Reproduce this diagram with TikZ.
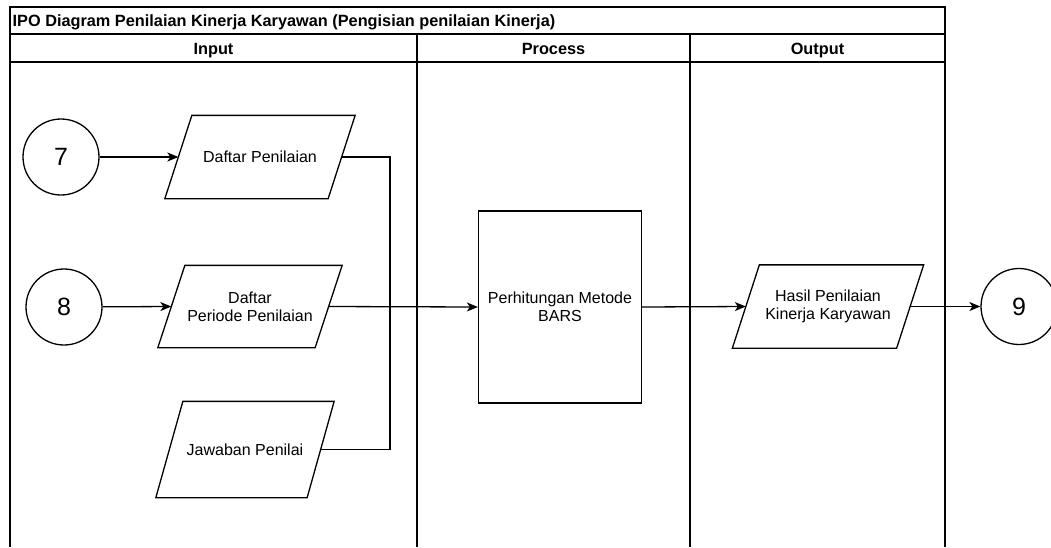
\documentclass[tikz,border=0pt]{standalone}
\usepackage{fontspec}
\setmainfont{Liberation Sans}
\usetikzlibrary{arrows.meta}
\begin{document}
\begin{tikzpicture}[x=1pt,y=-1pt,line width=1.3pt,
  txt/.style={font=\fontsize{16}{18.4}\selectfont, align=center},
  hdr/.style={font=\fontsize{16.3}{18.5}\selectfont\bfseries, inner sep=0pt, anchor=base},
  conn/.style={draw, circle, minimum size=76pt, inner sep=0pt, font=\fontsize{25}{28}\selectfont},
  para/.style={txt, inner sep=0pt},
  procbox/.style={txt, draw, inner sep=0pt, minimum width=163pt, minimum height=192pt},
  arr/.style={-{Stealth[length=11pt,width=9pt,inset=3pt]}}
]
\useasboundingbox (0,0) rectangle (1051,547);
% frame
\draw (10,547) -- (10,7) -- (945,7) -- (945,547);
\draw (10,34) -- (945,34);
\draw (10,62) -- (945,62);
\draw (417,34) -- (417,547);
\draw (690,34) -- (690,547);
\node[hdr, anchor=base west] (title) at (12,26.5) {IPO Diagram Penilaian Kinerja Karyawan (Pengisian penilaian Kinerja)};
\node[hdr] (hin) at (213.5,54) {Input};
\node[hdr] (hpr) at (553.5,54) {Process};
\node[hdr] (hout) at (817.5,54) {Output};
% connectors circles
\node[conn] (c7) at (61,157) {7};
\node[conn] (c8) at (64,307) {8};
\node[conn] (c9) at (1019,306.5) {9};
% parallelograms
\node[para, minimum width=162pt, minimum height=82pt] (dp) at (260,157) {Daftar Penilaian};
\node[para, minimum width=156pt, minimum height=81pt] (dpp) at (250,306.5) {Daftar\\Periode Penilaian};
\node[para, minimum width=150pt, minimum height=95pt] (jp) at (245,449.5) {Jawaban Penilai};
\node[para, minimum width=163pt, minimum height=82pt] (hp) at (828,306.5) {Hasil Penilaian\\Kinerja Karyawan};
\foreach \n in {dp,dpp,jp,hp}{
  \draw ([xshift=13.5pt]\n.north west) -- ([xshift=13.5pt]\n.north east) -- ([xshift=-13.5pt]\n.south east) -- ([xshift=-13.5pt]\n.south west) -- cycle;
}
% process
\node[procbox] (proc) at (560,307) {Perhitungan Metode\\BARS};
% edges
\coordinate (bus) at (390,449.5);
\draw[arr] (c7) -- (dp.west);
\draw[arr] (c8) -- (dpp.west);
\draw (dp.east) -| (bus) -- (jp.east);
\draw[arr] (dpp.east) -- (proc.west);
\draw[arr] (proc.east) -- (hp.west);
\draw[arr] (hp.east) -- (c9);
\end{tikzpicture}
\end{document}
